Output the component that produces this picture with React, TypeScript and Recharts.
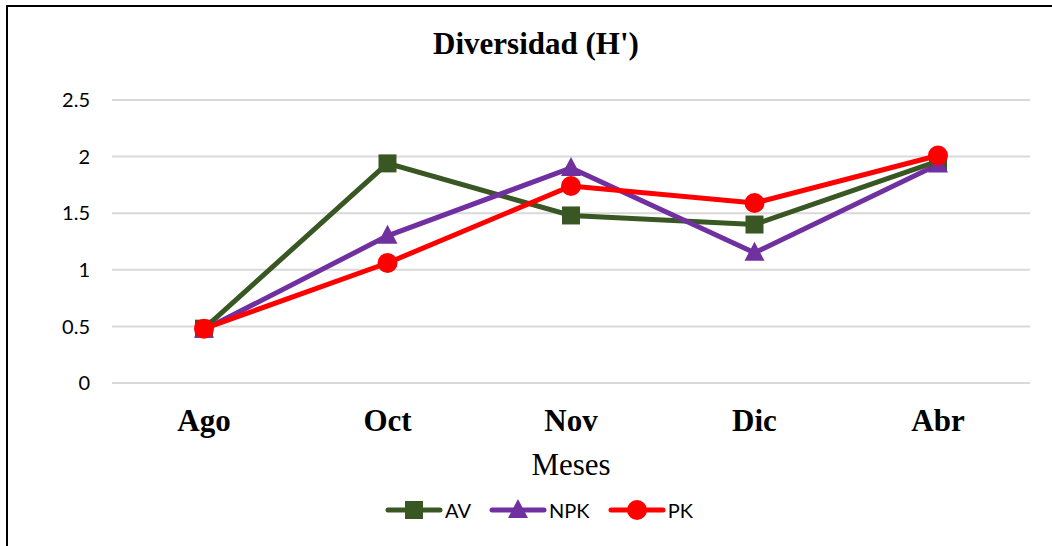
import React from "react";
import { LineChart, Line, XAxis, YAxis, CartesianGrid } from "recharts";

const months = ["Ago", "Oct", "Nov", "Dic", "Abr"];
const av = [0.48, 1.94, 1.48, 1.4, 1.96];
const npk = [0.47, 1.3, 1.9, 1.15, 1.93];
const pk = [0.48, 1.06, 1.74, 1.59, 2.01];
const yTicks = [0, 0.5, 1, 1.5, 2, 2.5];

const series = [
  { key: "AV", values: av, color: "#385723", shape: "square" },
  { key: "NPK", values: npk, color: "#7030A0", shape: "triangle" },
  { key: "PK", values: pk, color: "#FF0000", shape: "circle" },
];

const data = months.map((m, i) => ({
  month: m,
  AV: av[i],
  NPK: npk[i],
  PK: pk[i],
}));

const W = 1052;
const H = 546;

function Marker({ cx, cy, color, shape }: { cx: number; cy: number; color: string; shape: string }) {
  if (cx == null || cy == null) return null;
  if (shape === "square") {
    return <rect x={cx - 9} y={cy - 9} width={18} height={18} fill={color} />;
  }
  if (shape === "triangle") {
    return (
      <polygon
        points={`${cx},${cy - 11} ${cx + 10},${cy + 8} ${cx - 10},${cy + 8}`}
        fill={color}
      />
    );
  }
  return <circle cx={cx} cy={cy} r={10} fill={color} />;
}

function LegendItem({ color, shape, label }: { color: string; shape: string; label: string }) {
  return (
    <div style={{ display: "flex", alignItems: "center", marginRight: 18 }}>
      <svg width={58} height={22}>
        <line x1={3} y1={11} x2={55} y2={11} stroke={color} strokeWidth={5} strokeLinecap="round" />
        <Marker cx={29} cy={11} color={color} shape={shape} />
      </svg>
      <span style={{ marginLeft: 2, fontSize: 20, color: "#000" }}>{label}</span>
    </div>
  );
}

export default function App() {
  return (
    <div
      style={{
        position: "absolute",
        left: 0,
        top: 0,
        width: W,
        height: H,
        overflow: "hidden",
        background: "#fff",
        fontFamily: "Lato, 'Open Sans', sans-serif",
      }}
    >
      <div
        style={{
          position: "absolute",
          left: 6,
          top: 5,
          width: 1200,
          height: 700,
          border: "2px solid #000",
          boxSizing: "border-box",
        }}
      />
      <div
        style={{
          position: "absolute",
          left: 0,
          top: 25,
          width: 1072,
          textAlign: "center",
          fontFamily: "'Liberation Serif', serif",
          fontWeight: "bold",
          fontSize: 31,
          lineHeight: "38px",
        }}
      >
        Diversidad (H')
      </div>
      <div style={{ position: "absolute", left: 0, top: 0 }}>
        <LineChart width={W} height={H} data={data} margin={{ top: 100, right: 22, bottom: 0, left: 0 }}>
          <CartesianGrid vertical={false} stroke="#D9D9D9" strokeWidth={2} />
          <XAxis
            dataKey="month"
            axisLine={false}
            tickLine={false}
            tickSize={0}
            tickMargin={26}
            height={163}
            padding={{ left: 92, right: 92 }}
            tick={{ fontFamily: "'Liberation Serif', serif", fontWeight: "bold", fontSize: 31, fill: "#000" }}
            label={{
              value: "Meses",
              position: "insideBottom",
              offset: 71,
              style: { fontFamily: "'Liberation Serif', serif", fontSize: 31, fill: "#000" },
            }}
          />
          <YAxis
            domain={[0, 2.5]}
            ticks={yTicks}
            width={112}
            axisLine={false}
            tickLine={false}
            tickSize={0}
            tickMargin={22}
            tick={{ fontFamily: "Lato, sans-serif", fontSize: 20, fill: "#000" }}
          />
          {series.map((s) => (
            <Line
              key={s.key}
              dataKey={s.key}
              stroke={s.color}
              strokeWidth={5}
              isAnimationActive={false}
              dot={(p: any) => <Marker key={`${s.key}-${p.index}`} cx={p.cx} cy={p.cy} color={s.color} shape={s.shape} />}
              activeDot={false}
            />
          ))}
        </LineChart>
      </div>
      <div
        style={{
          position: "absolute",
          left: 0,
          top: 498,
          width: 1096,
          display: "flex",
          justifyContent: "center",
        }}
      >
        {series.map((s) => (
          <LegendItem key={s.key} color={s.color} shape={s.shape} label={s.key} />
        ))}
      </div>
    </div>
  );
}
